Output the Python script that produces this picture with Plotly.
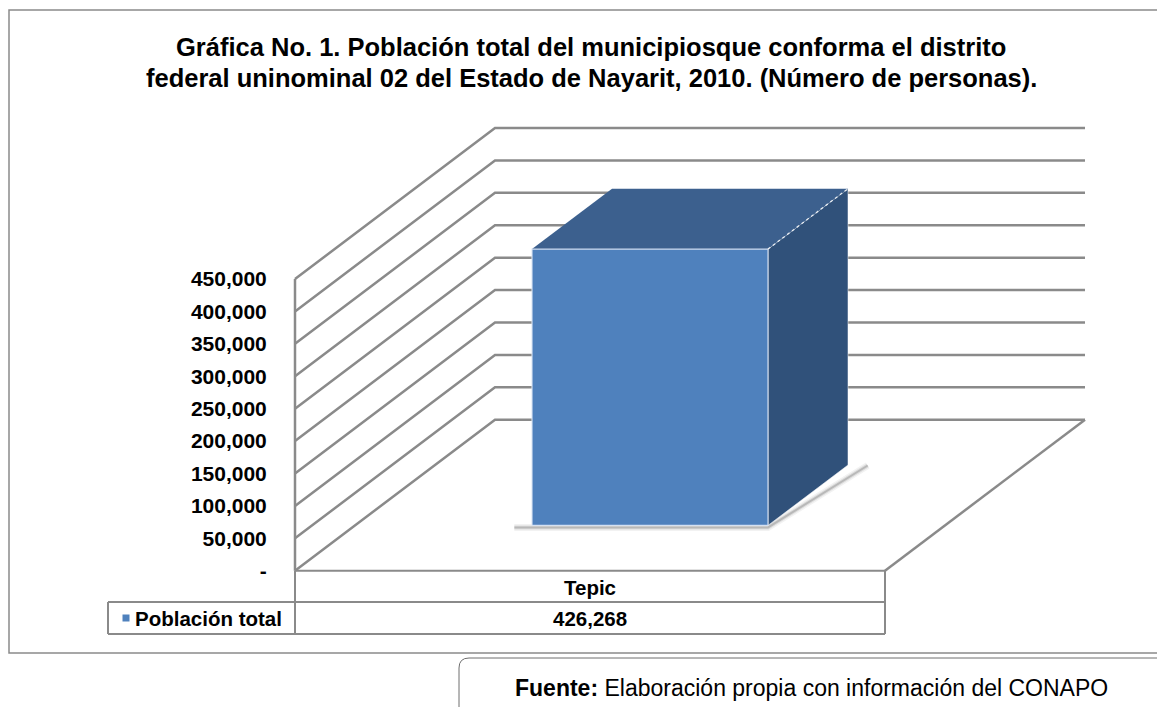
import plotly.graph_objects as go

# ---- data ----
categories = ["Tepic"]
series_name = "Población total"
values = [426268]
tick_values = [0, 50000, 100000, 150000, 200000, 250000, 300000, 350000, 400000, 450000]
tick_labels = ["-", "50,000", "100,000", "150,000", "200,000", "250,000",
               "300,000", "350,000", "400,000", "450,000"]

title_lines = [
    "Gráfica No. 1. Población total del municipiosque conforma el distrito",
    "federal uninominal 02 del Estado de Nayarit, 2010. (Número de personas).",
]
source_bold = "Fuente:"
source_text = " Elaboración propia con información del CONAPO"

# ---- page geometry (screen pixels; the page body adds an 8px margin) ----
SCR_W, SCR_H, OFF = 1165, 707, 8
W, H = SCR_W - OFF, SCR_H - OFF
FONT = "Liberation Sans"
AX_X, AX_Y0, AX_YTOP = 295, 570.7, 279   # front value axis: x, y of 0, y of top tick
CAT_W = 590                               # width of the category band on the front plane
DEPTH_PX = (200, 151)                     # oblique offset of the back wall

GRID = "#8a8a8a"
FRONT, TOPC, SIDE = "#4f81bd", "#3c608e", "#30517a"

VPP = tick_values[-1] / (AX_Y0 - AX_YTOP)   # value units per pixel
DX = DEPTH_PX[0] / CAT_W
DV = DEPTH_PX[1] * VPP


def px_x(px):
    return (px - AX_X) / CAT_W


def px_y(py):
    return (AX_Y0 - py) * VPP


def pap_x(px):
    return (px - OFF) / W


def pap_y(py):
    return 1 - (py - OFF) / H


def proj(x, v, d):
    """oblique projection: category x, value v, depth d (0 front .. 1 back)"""
    return x + d * DX, v + d * DV


def polyline(pts):
    xs, ys = [], []
    for seg in pts:
        for p in seg:
            xs.append(p[0])
            ys.append(p[1])
        xs.append(None)
        ys.append(None)
    return xs, ys


fig = go.Figure()
n = len(categories)
top = tick_values[-1]

# walls / gridlines
segs = [[proj(0, v, 0), proj(0, v, 1), proj(n, v, 1)] for v in tick_values]
segs.append([proj(n, 0, 0), proj(n, 0, 1)])
segs.append([proj(0, 0, 0), proj(0, top, 0)])
gx, gy = polyline(segs)
fig.add_trace(go.Scatter(x=gx, y=gy, mode="lines", line=dict(color=GRID, width=2.5),
                         hoverinfo="skip", showlegend=False))


def add_poly(pts, fill, line_color, width=1.0):
    xs = [p[0] for p in pts] + [pts[0][0]]
    ys = [p[1] for p in pts] + [pts[0][1]]
    fig.add_trace(go.Scatter(x=xs, y=ys, mode="lines", fill="toself", fillcolor=fill,
                             line=dict(color=line_color, width=width),
                             hoverinfo="skip", showlegend=False))


# bars
for i, v in enumerate(values):
    x0, x1, d0, d1 = i + 0.3, i + 0.7, 0.3, 0.7
    # soft shadow on the floor
    off = -2 * VPP
    pts = [proj(x0 - 0.03, 0, d0), proj(x1, 0, d0), proj(x1 + 0.03, 0, d1 + 0.01)]
    for w, a in ((7, 0.05), (4, 0.09), (2, 0.16)):
        fig.add_trace(go.Scatter(x=[p[0] for p in pts], y=[p[1] + off for p in pts],
                                 mode="lines", line=dict(color=f"rgba(0,0,0,{a})", width=w),
                                 hoverinfo="skip", showlegend=False))
    add_poly([proj(x1, 0, d0), proj(x1, 0, d1), proj(x1, v, d1), proj(x1, v, d0)],
             SIDE, "rgba(255,255,255,0.5)", 1)
    add_poly([proj(x0, v, d0), proj(x1, v, d0), proj(x1, v, d1), proj(x0, v, d1)],
             TOPC, "rgba(255,255,255,0.0)", 1)
    add_poly([proj(x0, 0, d0), proj(x1, 0, d0), proj(x1, v, d0), proj(x0, v, d0)],
             FRONT, "rgba(220,230,245,0.9)", 1.2)
    ex, ey = zip(proj(x1, v, d0), proj(x1, v, d1))
    fig.add_trace(go.Scatter(x=list(ex), y=list(ey), mode="lines",
                             line=dict(color="rgba(255,255,255,0.85)", width=1.3, dash="dot"),
                             hoverinfo="skip", showlegend=False))

# data table under the plot
row1, row2, row_end = 602, 618, 634
left_px = 108
tsegs = [
    [proj(0, 0, 0), proj(n, 0, 0)],
    [(0, 0), (0, px_y(row_end))],
    [(n, 0), (n, px_y(row_end))],
    [(px_x(left_px), px_y(row1)), (n, px_y(row1))],
    [(px_x(left_px), px_y(row_end)), (n, px_y(row_end))],
    [(px_x(left_px), px_y(row1)), (px_x(left_px), px_y(row_end))],
]
tx, ty = polyline(tsegs)
fig.add_trace(go.Scatter(x=tx, y=ty, mode="lines", line=dict(color=GRID, width=2),
                         hoverinfo="skip", showlegend=False))
fig.add_trace(go.Scatter(x=[px_x(126)], y=[px_y(row2)], mode="markers",
                         marker=dict(symbol="square", size=7, color=FRONT),
                         hoverinfo="skip", showlegend=False))

tfont = dict(family=FONT, size=20.5, color="black")
annotations = []
for i, (c, v) in enumerate(zip(categories, values)):
    annotations.append(dict(x=i + 0.5, y=px_y(587), xref="x", yref="y", text=f"<b>{c}</b>",
                            showarrow=False, xanchor="center", font=tfont))
    annotations.append(dict(x=i + 0.5, y=px_y(row2), xref="x", yref="y", text=f"<b>{v:,}</b>",
                            showarrow=False, xanchor="center", font=tfont))
annotations.append(dict(x=px_x(133), y=px_y(row2), xref="x", yref="y", xanchor="left",
                        text=f"<b>{series_name}</b>", showarrow=False, font=tfont))
for k, line in enumerate(title_lines):
    annotations.append(dict(x=pap_x(591), y=pap_y(47 + 31 * k), xref="paper", yref="paper",
                            text=f"<b>{line}</b>", showarrow=False, xanchor="center",
                            yanchor="middle", font=dict(family=FONT, size=25.5, color="black")))
annotations.append(dict(x=pap_x(811), y=pap_y(688), xref="paper", yref="paper",
                        text=f"<b>{source_bold}</b>{source_text}", showarrow=False,
                        xanchor="center", yanchor="middle",
                        font=dict(family=FONT, size=23, color="black")))

# frame around the chart and rounded box for the source note
bx, by, r = pap_x(459), pap_y(658), 10
box_path = f"M {bx},-0.05 L {bx},{by - r / H} Q {bx},{by} {bx + r / W},{by} L 1.05,{by}"
shapes = [
    dict(type="rect", xref="paper", yref="paper", x0=pap_x(9), x1=1.05, y0=pap_y(653),
         y1=pap_y(10), line=dict(color="#8a8a8a", width=1.5), layer="below"),
    dict(type="path", xref="paper", yref="paper", path=box_path,
         line=dict(color="#6e6e6e", width=1)),
]

fig.update_layout(
    width=W, height=H,
    margin=dict(l=0, r=0, t=0, b=0),
    paper_bgcolor="white", plot_bgcolor="white",
    showlegend=False, hovermode=False,
    xaxis=dict(range=[px_x(OFF), px_x(SCR_W)], visible=False, fixedrange=True),
    yaxis=dict(range=[px_y(SCR_H), px_y(OFF)], anchor="free", position=pap_x(AX_X),
               tickvals=tick_values, ticktext=tick_labels,
               showgrid=False, zeroline=False, showline=False,
               ticks="outside", ticklen=24, tickcolor="rgba(0,0,0,0)",
               tickfont=dict(family=FONT, size=21, color="black", weight="bold"),
               fixedrange=True),
    annotations=annotations,
    shapes=shapes,
)

fig.write_html("out.html")
